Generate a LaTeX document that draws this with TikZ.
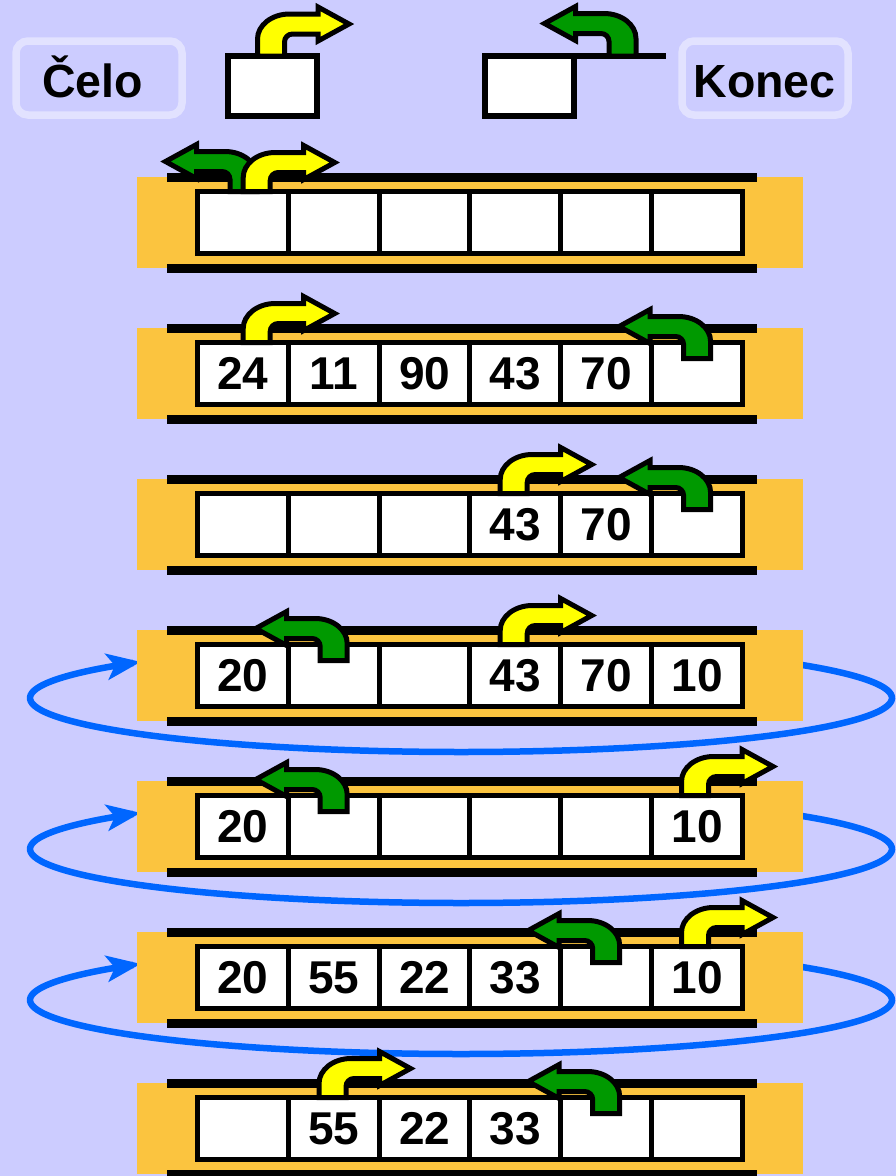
\documentclass[tikz,border=0pt]{standalone}
\usepackage{fontspec}
\setmainfont{Liberation Sans}
\usetikzlibrary{arrows.meta}
\definecolor{bg}{HTML}{CCCCFF}
\definecolor{orng}{HTML}{FBC43F}
\definecolor{lbox}{HTML}{E2E2FF}
\definecolor{garr}{HTML}{009900}
\definecolor{yarr}{HTML}{FFFF00}
\definecolor{blu}{HTML}{0066FF}
\tikzset{
  cell/.style={draw=black, line width=5pt, fill=white, minimum width=90.83pt, minimum height=62pt, inner sep=0pt, font=\fontsize{46}{46}\selectfont\bfseries},
  rail/.style={line width=9pt, black},
  arrowline/.style={draw=black, line width=5pt, line join=miter},
  loopline/.style={draw=blu, line width=6.5pt, -{Stealth[length=34pt,width=26pt,inset=8pt]}},
  lblbox/.style={draw=lbox, line width=7.5pt, fill=bg, rounded corners=12pt, minimum width=166pt, minimum height=74pt},
  lbl/.style={font=\fontsize{46.5}{46.5}\selectfont\bfseries, inner sep=0pt},
  ptr/.style={draw=black, line width=6pt, fill=white, minimum width=89pt, minimum height=60pt, inner sep=0pt, outer sep=0pt}
}
% #1 stem centre x, #2 base y, #3 band centre relative to base, #4 direction, #5 colour
\newcommand{\bentarr}[5]{%
  \begin{scope}[shift={(#1,#2)},xscale=#4]
    \filldraw[arrowline,fill=#5] (-13.5,0) -- (-13.5,{#3+15})
      .. controls (-13.5,{#3+1.2}) and (0.8,{#3-10}) .. (18.5,{#3-10})
      -- (47,{#3-10}) -- (47,{#3-17}) -- (78,{#3}) -- (47,{#3+17}) -- (47,{#3+10})
      -- (21.5,{#3+10}) .. controls (17.1,{#3+10}) and (13.5,{#3+13.6}) .. (13.5,{#3+18})
      -- (13.5,0) -- cycle;
  \end{scope}}
% #1 row centre y, #2 row id, #3-#8 cell texts
\newcommand{\qrow}[8]{%
  \fill[orng] (137,{#1-45.5}) rectangle (803,{#1+45.5});
  \draw[rail] (167,{#1-45.5}) -- (757,{#1-45.5});
  \draw[rail] (167,{#1+45.5}) -- (757,{#1+45.5});
  \node[cell] (#2a) at (242.9,#1) {#3};
  \node[cell] (#2b) at (333.7,#1) {#4};
  \node[cell] (#2c) at (424.6,#1) {#5};
  \node[cell] (#2d) at (515.4,#1) {#6};
  \node[cell] (#2e) at (606.2,#1) {#7};
  \node[cell] (#2f) at (697.1,#1) {#8};
}
\newcommand{\qloop}[1]{%
  \draw[loopline] plot[smooth, domain=-50:222, samples=120, variable=\t] ({461+431*cos(\t)},{#1+22.5+54*sin(\t)});}
\begin{document}
\begin{tikzpicture}[x=1pt,y=-1pt]
\useasboundingbox (0,0) rectangle (896,1176);
\fill[bg] (0,0) rectangle (896,1176);
% header
\node[lblbox] (celobox) at (99,78) {};
\node[lbl, anchor=base] (celo) at (92.5,97) {Čelo};
\node[lblbox] (konecbox) at (765,78) {};
\node[lbl, anchor=base] (konec) at (764.5,97) {Konec};
\node[ptr] (headbox) at (272.5,86) {};
\node[ptr] (tailbox) at (529.5,86) {};
\coordinate (tailend) at (666,56);
\draw[line width=6.5pt] (tailbox.north east) -- (tailend);
\bentarr{271}{56}{-32}{1}{yarr}
\bentarr{622.5}{56}{-32.5}{-1}{garr}
% row 1
\qrow{222.5}{r0}{}{}{}{}{}{}
\bentarr{243.5}{191.5}{-30}{-1}{garr}
\bentarr{256.7}{191.5}{-29}{1}{yarr}
% row 2
\qrow{373.5}{r1}{24}{11}{90}{43}{70}{}
\bentarr{697.1}{358.5}{-32}{-1}{garr}
\bentarr{256.7}{342.5}{-29}{1}{yarr}
% row 3
\qrow{524.5}{r2}{}{}{}{43}{70}{}
\bentarr{697.1}{509.5}{-32}{-1}{garr}
\bentarr{513.7}{493.5}{-29}{1}{yarr}
% row 4
\qloop{675.5}
\qrow{675.5}{r3}{20}{}{}{43}{70}{10}
\bentarr{333.7}{660.5}{-32}{-1}{garr}
\bentarr{513.7}{644.5}{-29}{1}{yarr}
% row 5
\qloop{826.5}
\qrow{826.5}{r4}{20}{}{}{}{}{10}
\bentarr{333.7}{811.5}{-32}{-1}{garr}
\bentarr{695}{795.5}{-29}{1}{yarr}
% row 6
\qloop{977.5}
\qrow{977.5}{r5}{20}{55}{22}{33}{}{10}
\bentarr{606.2}{962.5}{-32}{-1}{garr}
\bentarr{695}{946.5}{-29}{1}{yarr}
% row 7
\qrow{1128.5}{r6}{}{55}{22}{33}{}{}
\bentarr{606.2}{1113.5}{-32}{-1}{garr}
\bentarr{332.5}{1097.5}{-29}{1}{yarr}
\end{tikzpicture}
\end{document}
